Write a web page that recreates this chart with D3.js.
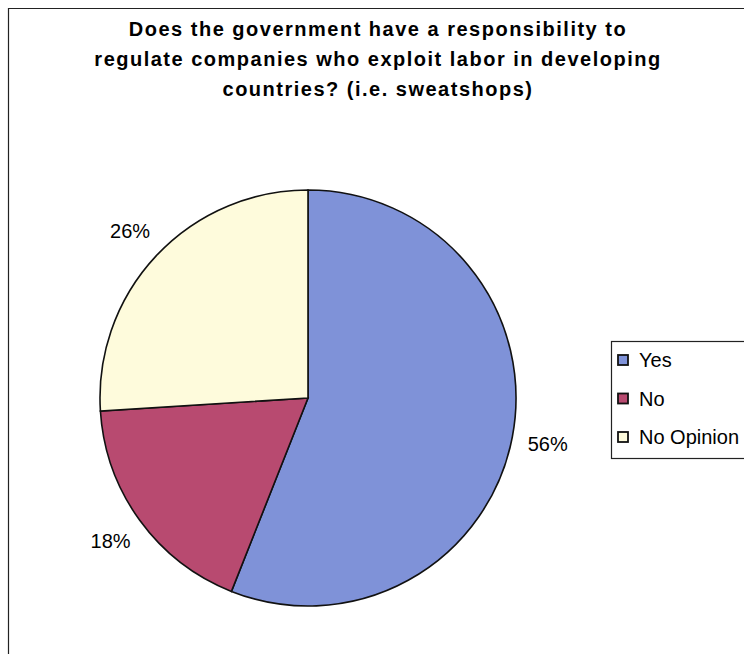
<!DOCTYPE html>
<html>
<head>
<meta charset="utf-8">
<script src="https://d3js.org/d3.v7.min.js"></script>
<style>
  body { margin: 0; background: #fff; }
  text { font-family: "Liberation Sans", Arial, sans-serif; fill: #000; }
</style>
</head>
<body>
<script>
// chart data
var categories = ["Yes", "No", "No Opinion"];
var values = [56, 18, 26];
var colors = ["#7f92d8", "#b84a70", "#fefbdc"];
var titleLines = [
  "Does the government have a responsibility to",
  "regulate companies who exploit labor in developing",
  "countries? (i.e. sweatshops)"
];

var width = 744, height = 654;
var cx = 308, cy = 398, r = 208;

var svg = d3.select("body").append("svg")
  .attr("width", width)
  .attr("height", height);

// outer frame
svg.append("path")
  .attr("d", "M8.5," + height + "V8.5H" + width)
  .attr("fill", "none")
  .attr("stroke", "#222")
  .attr("stroke-width", 1.2);

// title
svg.append("g").selectAll("text")
  .data(titleLines)
  .enter().append("text")
  .attr("x", 378)
  .attr("y", function(d, i) { return 36 + i * 30; })
  .attr("text-anchor", "middle")
  .attr("font-size", 20)
  .attr("font-weight", "bold")
  .attr("letter-spacing", 1.5)
  .text(function(d) { return d; });

var pie = d3.pie().sort(null).value(function(d) { return d; });
var arc = d3.arc().innerRadius(0).outerRadius(r);
var arcs = pie(values);

var g = svg.append("g")
  .attr("transform", "translate(" + cx + "," + cy + ")");

g.selectAll("path")
  .data(arcs)
  .enter().append("path")
  .attr("d", arc)
  .attr("fill", function(d, i) { return colors[i]; })
  .attr("stroke", "#111")
  .attr("stroke-width", 1.6);

// percent labels outside the pie
var labelArc = d3.arc().innerRadius(r + 36).outerRadius(r + 36);
g.selectAll(".lbl")
  .data(arcs)
  .enter().append("text")
  .attr("class", "lbl")
  .attr("transform", function(d) { return "translate(" + labelArc.centroid(d) + ")"; })
  .attr("text-anchor", "middle")
  .attr("dy", "0.35em")
  .attr("font-size", 20)
  .text(function(d) { return d.data + "%"; });

// legend
var legend = svg.append("g").attr("transform", "translate(611,341)");
legend.append("rect")
  .attr("x", 0.5).attr("y", 0.5)
  .attr("width", 140).attr("height", 117)
  .attr("fill", "#fff")
  .attr("stroke", "#222")
  .attr("stroke-width", 1.2);

var item = legend.selectAll(".item")
  .data(categories)
  .enter().append("g")
  .attr("class", "item")
  .attr("transform", function(d, i) { return "translate(0," + (19 + i * 38.5) + ")"; });

item.append("rect")
  .attr("x", 7).attr("y", -5)
  .attr("width", 10).attr("height", 10)
  .attr("fill", function(d, i) { return colors[i]; })
  .attr("stroke", "#111")
  .attr("stroke-width", 1.8);

item.append("text")
  .attr("x", 28)
  .attr("y", 7)
  .attr("font-size", 20)
  .text(function(d) { return d; });
</script>
</body>
</html>
